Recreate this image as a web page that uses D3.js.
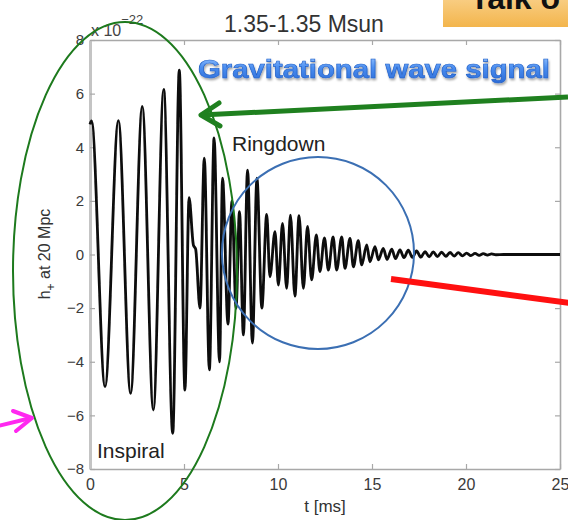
<!DOCTYPE html>
<html>
<head>
<meta charset="utf-8">
<script src="https://cdn.jsdelivr.net/npm/d3@7"></script>
<style>
  body { margin: 0; background: white; }
  svg { display: block; font-family: "Liberation Sans", Arial, Helvetica, sans-serif; }
</style>
</head>
<body>
<div id="container"></div>
<script>
// waveform (t in ms, h in 1e-22)
const inspiralT = [0, 0.08, 0.80, 1.51, 2.16, 2.78, 3.37, 3.92, 4.40, 4.75, 5.05];
const inspiralH = [4.85, 4.98, -4.93, 4.99, -5.18, 5.52, -5.80, 6.16, -6.67, 6.88, -5.06];

const mergerT = [5.27, 5.50, 5.62, 5.85, 6.08, 6.35, 6.60, 6.89, 7.05, 7.34, 7.55, 7.77, 7.95, 8.16, 8.38, 8.64, 8.88, 9.14, 9.40];
const mergerH = [2.12, 0.35, 0.20, -2.0, 3.59, -4.3, 4.35, -4.0, 2.85, -2.6, 2.0, -2.0, 1.6, -3.0, 3.15, -3.3, 2.85, -2.0, 1.5];

const ringdownT = [9.57, 9.84, 10.02, 10.24, 10.46, 10.66, 10.90, 11.12, 11.35, 11.57, 11.79, 12.04, 12.23, 12.47,
  12.68, 12.93, 13.12, 13.39, 13.56, 13.83, 14.01, 14.27, 14.45, 14.72, 14.89, 15.16, 15.34, 15.60, 15.80, 16.05,
  16.25, 16.49, 16.70, 16.93, 17.15, 17.37, 17.60, 17.82, 18.04, 18.26, 18.48, 18.70, 18.93, 19.15, 19.37, 19.59,
  19.81, 20.03, 20.26, 20.48, 20.70, 20.92, 21.14, 21.36, 21.59, 22.0, 25.0];
const ringdownH = [-0.83, 0.85, -1.14, 1.16, -1.26, 1.47, -1.55, 1.45, -1.26, 1.05, -0.95, 0.73, -0.64, 0.62,
  -0.58, 0.66, -0.58, 0.66, -0.52, 0.60, -0.46, 0.52, -0.39, 0.36, -0.27, 0.29, -0.20, 0.23, -0.18, 0.20,
  -0.15, 0.17, -0.12, 0.16, -0.11, 0.13, -0.10, 0.11, -0.09, 0.10, -0.08, 0.09, -0.07, 0.08, -0.06, 0.07,
  -0.05, 0.05, -0.04, 0.04, -0.03, 0.03, -0.02, 0.02, -0.01, 0, 0];

const xTicks = [0, 5, 10, 15, 20, 25];
const yTicks = [-8, -6, -4, -2, 0, 2, 4, 6, 8];

const w = 568, h = 520;
const viz = d3.select("#container").append("svg")
    .attr("width", w)
    .attr("height", h);

let x = d3.scaleLinear().domain([0, 25]).range([90, 560]);
let y = d3.scaleLinear().domain([-8, 8]).range([469, 40]);

let defs = viz.append("defs");
let grad = defs.append("linearGradient").attr("id", "gwText").attr("x1", 0).attr("y1", 0).attr("x2", 0).attr("y2", 1);
grad.append("stop").attr("offset", "0%").attr("stop-color", "#9cc8ff");
grad.append("stop").attr("offset", "45%").attr("stop-color", "#4b8ef0");
grad.append("stop").attr("offset", "100%").attr("stop-color", "#2a6ad6");
let shadow = defs.append("filter").attr("id", "shadow").attr("x", "-5%").attr("y", "-20%").attr("width", "110%").attr("height", "150%");
shadow.append("feDropShadow").attr("dx", 1).attr("dy", 2).attr("stdDeviation", 1.2).attr("flood-color", "#000").attr("flood-opacity", 0.35);
let soft = defs.append("filter").attr("id", "soft");
soft.append("feGaussianBlur").attr("stdDeviation", 0.4);
let boxGrad = defs.append("linearGradient").attr("id", "boxGrad").attr("x1", 0).attr("y1", 0).attr("x2", 0).attr("y2", 1);
boxGrad.append("stop").attr("offset", "0%").attr("stop-color", "#fad594");
boxGrad.append("stop").attr("offset", "100%").attr("stop-color", "#f3b54c");

// axes (MATLAB style box, ticks inward)
const axisColor = "#a8a8a8";
let gx = viz.append("g").attr("transform", "translate(0," + y(-8) + ")")
    .call(d3.axisBottom(x).tickValues(xTicks).tickSizeInner(-5).tickSizeOuter(0).tickPadding(10));
let gxTop = viz.append("g").attr("transform", "translate(0," + y(8) + ")")
    .call(d3.axisTop(x).tickValues(xTicks).tickSizeInner(-5).tickSizeOuter(0).tickFormat(""));
let gy = viz.append("g").attr("transform", "translate(" + x(0) + ",0)")
    .call(d3.axisLeft(y).tickValues(yTicks).tickSizeInner(-5).tickSizeOuter(0).tickPadding(6));
let gyRight = viz.append("g").attr("transform", "translate(" + x(25) + ",0)")
    .call(d3.axisRight(y).tickValues(yTicks).tickSizeInner(-5).tickSizeOuter(0).tickFormat(""));

[gx, gxTop, gy, gyRight].forEach(function(g) {
  g.select(".domain").attr("stroke", axisColor).attr("stroke-width", 1.6);
  g.selectAll(".tick line").attr("stroke", axisColor).attr("stroke-width", 1.2);
  g.selectAll(".tick text").attr("fill", "#3a3a3a").attr("font-family", "Liberation Sans, Arial, sans-serif");
});
gy.select(".domain").attr("stroke", "#c4c4c4").attr("stroke-width", 3);
gx.selectAll(".tick text").attr("font-size", 16);
gy.selectAll(".tick text").attr("font-size", 15);

// the waveform
let wave = d3.zip(inspiralT.concat(mergerT, ringdownT), inspiralH.concat(mergerH, ringdownH));
let lineMaker = d3.line()
    .x(d => x(d[0]))
    .y(d => y(d[1]))
    .curve(d3.curveMonotoneX);

viz.append("path")
    .datum(wave)
    .attr("d", lineMaker)
    .attr("fill", "none")
    .attr("stroke", "#0a0a0a")
    .attr("stroke-width", 2.8)
    .attr("stroke-linejoin", "round")
    .attr("filter", "url(#soft)");

// texts
viz.append("text").attr("x", 304).attr("y", 32).attr("text-anchor", "middle")
    .attr("font-size", 23).attr("fill", "#333").text("1.35-1.35 Msun");

let exp = viz.append("text").attr("x", 91).attr("y", 36).attr("font-size", 16).attr("fill", "#444");
exp.append("tspan").text("x 10");
exp.append("tspan").attr("dy", -12).attr("font-size", 13).text("−22");

viz.append("text").attr("x", 97).attr("y", 458).attr("font-size", 21).attr("fill", "#222").text("Inspiral");
viz.append("text").attr("x", 232).attr("y", 151).attr("font-size", 21).attr("fill", "#222").text("Ringdown");

viz.append("text").attr("x", 325).attr("y", 512).attr("text-anchor", "middle")
    .attr("font-size", 17).attr("fill", "#333").text("t [ms]");

let yl = viz.append("text").attr("transform", "translate(50,254) rotate(-90)").attr("text-anchor", "middle")
    .attr("font-size", 16).attr("fill", "#333");
yl.append("tspan").text("h");
yl.append("tspan").attr("dy", 5).attr("font-size", 12).text("+");
yl.append("tspan").attr("dy", -5).text(" at 20 Mpc");

viz.append("text").attr("x", 198).attr("y", 78)
    .attr("font-size", 25).attr("font-weight", "bold")
    .attr("textLength", 352).attr("lengthAdjust", "spacingAndGlyphs")
    .attr("fill", "url(#gwText)").attr("stroke", "#2160c8").attr("stroke-width", 0.6)
    .attr("filter", "url(#shadow)")
    .text("Gravitational wave signal");

// orange title box, cut off at the top of the picture as in the source slide
viz.append("rect").attr("x", 443).attr("y", -10).attr("width", 130).attr("height", 37).attr("fill", "url(#boxGrad)");
viz.append("text").attr("x", 470).attr("y", 9).attr("font-size", 32).attr("font-weight", "bold")
    .attr("fill", "#111").text("Talk o");

// annotations
viz.append("ellipse").attr("cx", 125).attr("cy", 271).attr("rx", 112).attr("ry", 249)
    .attr("fill", "none").attr("stroke", "#1d7a1d").attr("stroke-width", 2);
viz.append("circle").attr("cx", 318).attr("cy", 253).attr("r", 96)
    .attr("fill", "none").attr("stroke", "#3b6fb3").attr("stroke-width", 2);

// green arrow
viz.append("line").attr("x1", 568).attr("y1", 97).attr("x2", 201).attr("y2", 115)
    .attr("stroke", "#1f801f").attr("stroke-width", 5);
viz.append("path").attr("d", "M219,103 L201,115 L220,126")
    .attr("fill", "none").attr("stroke", "#1f801f").attr("stroke-width", 5)
    .attr("stroke-linecap", "round").attr("stroke-linejoin", "round");

// red line
viz.append("line").attr("x1", 391).attr("y1", 279).attr("x2", 570).attr("y2", 303)
    .attr("stroke", "#ff1010").attr("stroke-width", 6);

// magenta arrow
viz.append("line").attr("x1", -2).attr("y1", 426).attr("x2", 31).attr("y2", 418)
    .attr("stroke", "#ff28f0").attr("stroke-width", 4);
viz.append("path").attr("d", "M13,411 L32,418 L16,431")
    .attr("fill", "none").attr("stroke", "#ff28f0").attr("stroke-width", 4)
    .attr("stroke-linecap", "round").attr("stroke-linejoin", "round");
</script>
</body>
</html>
